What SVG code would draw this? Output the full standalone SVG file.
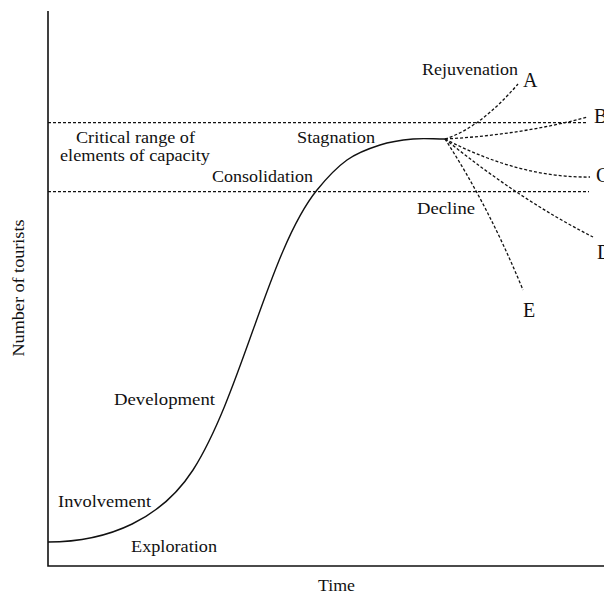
<svg xmlns="http://www.w3.org/2000/svg" width="604" height="595" viewBox="0 0 604 595">
<style>
text{font-family:"Liberation Serif","Times New Roman",serif;fill:#111;font-size:17px}
.big{font-size:20px}
.axis{stroke:#111;stroke-width:1.6;fill:none}
.curve{stroke:#111;stroke-width:1.4;fill:none}
.dot{stroke:#111;stroke-width:1.3;fill:none;stroke-dasharray:3 2}
</style>
<rect width="604" height="595" fill="#fff"/>
<g id="axes">
<path class="axis" d="M48,11 V566 H604"/>
<text id="ylabel" transform="translate(24,288) rotate(-90)" text-anchor="middle" textLength="137" lengthAdjust="spacingAndGlyphs">Number of tourists</text>
<text id="xlabel" x="318" y="591" textLength="37" lengthAdjust="spacingAndGlyphs">Time</text>
</g>
<g id="capacity">
<line class="dot" x1="48" y1="122.7" x2="588" y2="122.7"/>
<line class="dot" x1="48" y1="191.7" x2="589" y2="191.7"/>
<text x="76" y="143" textLength="119" lengthAdjust="spacingAndGlyphs">Critical range of</text>
<text x="60" y="161" textLength="150" lengthAdjust="spacingAndGlyphs">elements of capacity</text>
</g>
<g id="connectors">
<path id="lifecycle" class="curve" d="M48,542 C110,542 162,518 193,470 C241.8,393.2 269.5,248.5 317,190 C326.5,178.3 336.5,167.5 347,160 C357.5,152.5 369,148.5 380,145 C391,141.5 402.5,140 413,139 C423.5,138 433,139 445,139"/>
<path id="branchA" class="dot" d="M445,139 Q480,128 518,84"/>
<path id="branchB" class="dot" d="M445,139 Q520,135 588,117"/>
<path id="branchC" class="dot" d="M445,139 Q520,178 590,177"/>
<path id="branchD" class="dot" d="M445,139 Q520,200 593,237"/>
<path id="branchE" class="dot" d="M445,139 Q488,205 523,290"/>
</g>
<g id="stages">
<text x="58" y="507" textLength="93" lengthAdjust="spacingAndGlyphs">Involvement</text>
<text x="131" y="552" textLength="86" lengthAdjust="spacingAndGlyphs">Exploration</text>
<text x="114" y="405" textLength="101" lengthAdjust="spacingAndGlyphs">Development</text>
<text x="212" y="182" textLength="101" lengthAdjust="spacingAndGlyphs">Consolidation</text>
<text x="297" y="143" textLength="78" lengthAdjust="spacingAndGlyphs">Stagnation</text>
<text x="417" y="214" textLength="58" lengthAdjust="spacingAndGlyphs">Decline</text>
<text x="422" y="75" textLength="96" lengthAdjust="spacingAndGlyphs">Rejuvenation</text>
</g>
<g id="outcomes">
<text class="big" x="523" y="87">A</text>
<text class="big" x="594" y="123">B</text>
<text class="big" x="596" y="182">C</text>
<text class="big" x="597" y="259">D</text>
<text class="big" x="523" y="317">E</text>
</g>
</svg>
